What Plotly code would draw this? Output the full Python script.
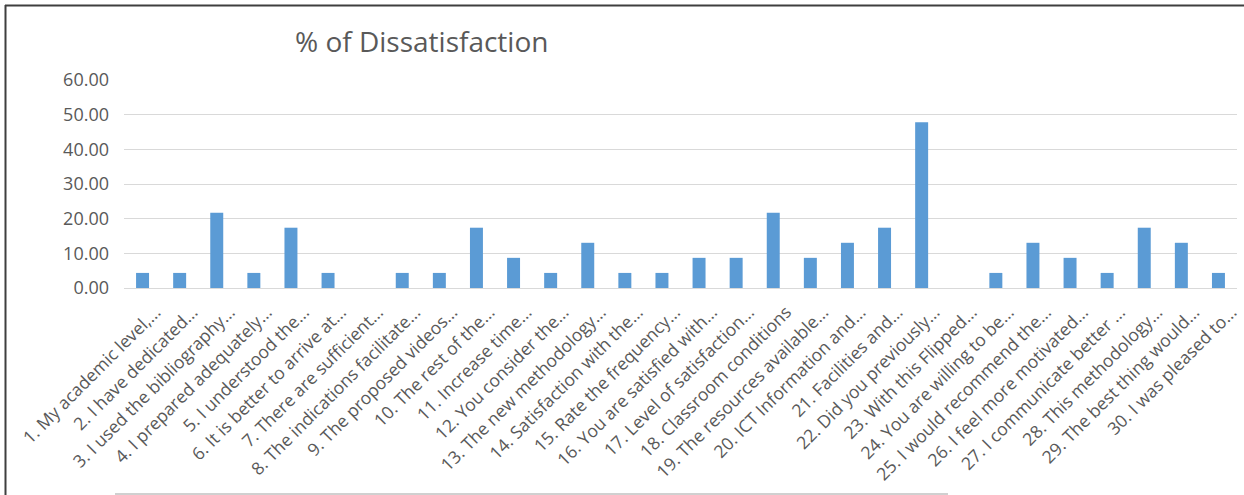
import plotly.graph_objects as go

categories = [
    "1. My academic level,...",
    "2. I have dedicated...",
    "3. I used the bibliography...",
    "4. I prepared adequately...",
    "5. I understood the...",
    "6. It is better to arrive at...",
    "7. There are sufficient...",
    "8. The indications facilitate...",
    "9. The proposed videos...",
    "10. The rest of the...",
    "11. Increase time...",
    "12. You consider the...",
    "13. The new methodology...",
    "14. Satisfaction with the...",
    "15. Rate the frequency...",
    "16. You are satisfied with...",
    "17. Level of satisfaction...",
    "18. Classroom conditions",
    "19. The resources available...",
    "20. ICT Information and...",
    "21. Facilities and...",
    "22. Did you previously...",
    "23. With this Flipped...",
    "24. You are willing to be...",
    "25. I would recommend the...",
    "26. I feel more motivated...",
    "27. I communicate better ...",
    "28. This methodology...",
    "29. The best thing would...",
    "30. I was pleased to...",
]

dissatisfaction = [
    4.35, 4.35, 21.74, 4.35, 17.39, 4.35, 0.00, 4.35, 4.35, 17.39,
    8.70, 4.35, 13.04, 4.35, 4.35, 8.70, 8.70, 21.74, 8.70, 13.04,
    17.39, 47.83, 0.00, 4.35, 13.04, 8.70, 4.35, 17.39, 13.04, 4.35,
]

y_ticks = [0, 10, 20, 30, 40, 50, 60]

W, H = 1244, 495
L, R, T, B = 124, 7, 80, 207
pw, ph = W - L - R, H - T - B


def px(x):
    return (x - L) / pw


def py(y):
    return (H - B - y) / ph


fig = go.Figure(
    go.Bar(
        x=categories,
        y=dissatisfaction,
        marker=dict(color="#5b9bd5", line=dict(width=0)),
    )
)

fig.update_layout(
    width=W,
    height=H,
    margin=dict(l=L, r=R, t=T, b=B, autoexpand=False),
    paper_bgcolor="white",
    plot_bgcolor="white",
    bargap=0.65,
    showlegend=False,
    font=dict(family="Open Sans", color="#595959"),
    title=dict(
        text="% of Dissatisfaction",
        font=dict(size=28, color="#595959", family="Open Sans"),
        xref="container",
        yref="container",
        x=295 / W,
        xanchor="left",
        y=1 - 42 / H,
        yanchor="middle",
    ),
    xaxis=dict(
        tickangle=-45,
        tickfont=dict(size=17.5, color="#595959"),
        showgrid=False,
        showline=True,
        linecolor="#d9d9d9",
        linewidth=1,
        ticks="",
        ticklabelshift=13,
        ticklabelstandoff=6,
        automargin=False,
    ),
    yaxis=dict(
        range=[0, 60],
        tickvals=y_ticks,
        tickformat=".2f",
        tickfont=dict(size=18, color="#595959"),
        showgrid=True,
        gridcolor="#d9d9d9",
        gridwidth=1,
        zeroline=False,
        showline=False,
        ticks="",
        ticklabelstandoff=14,
        automargin=False,
    ),
    shapes=[
        dict(type="line", xref="paper", yref="paper",
             x0=px(5), x1=px(1244), y0=py(5.5), y1=py(5.5),
             line=dict(color="#3f3f3f", width=2)),
        dict(type="line", xref="paper", yref="paper",
             x0=px(5.5), x1=px(5.5), y0=py(5), y1=py(495),
             line=dict(color="#3f3f3f", width=2)),
        dict(type="line", xref="paper", yref="paper",
             x0=px(115), x1=px(948), y0=py(494), y1=py(494),
             line=dict(color="#d0d0d0", width=2)),
    ],
)

fig.write_html("out.html")
